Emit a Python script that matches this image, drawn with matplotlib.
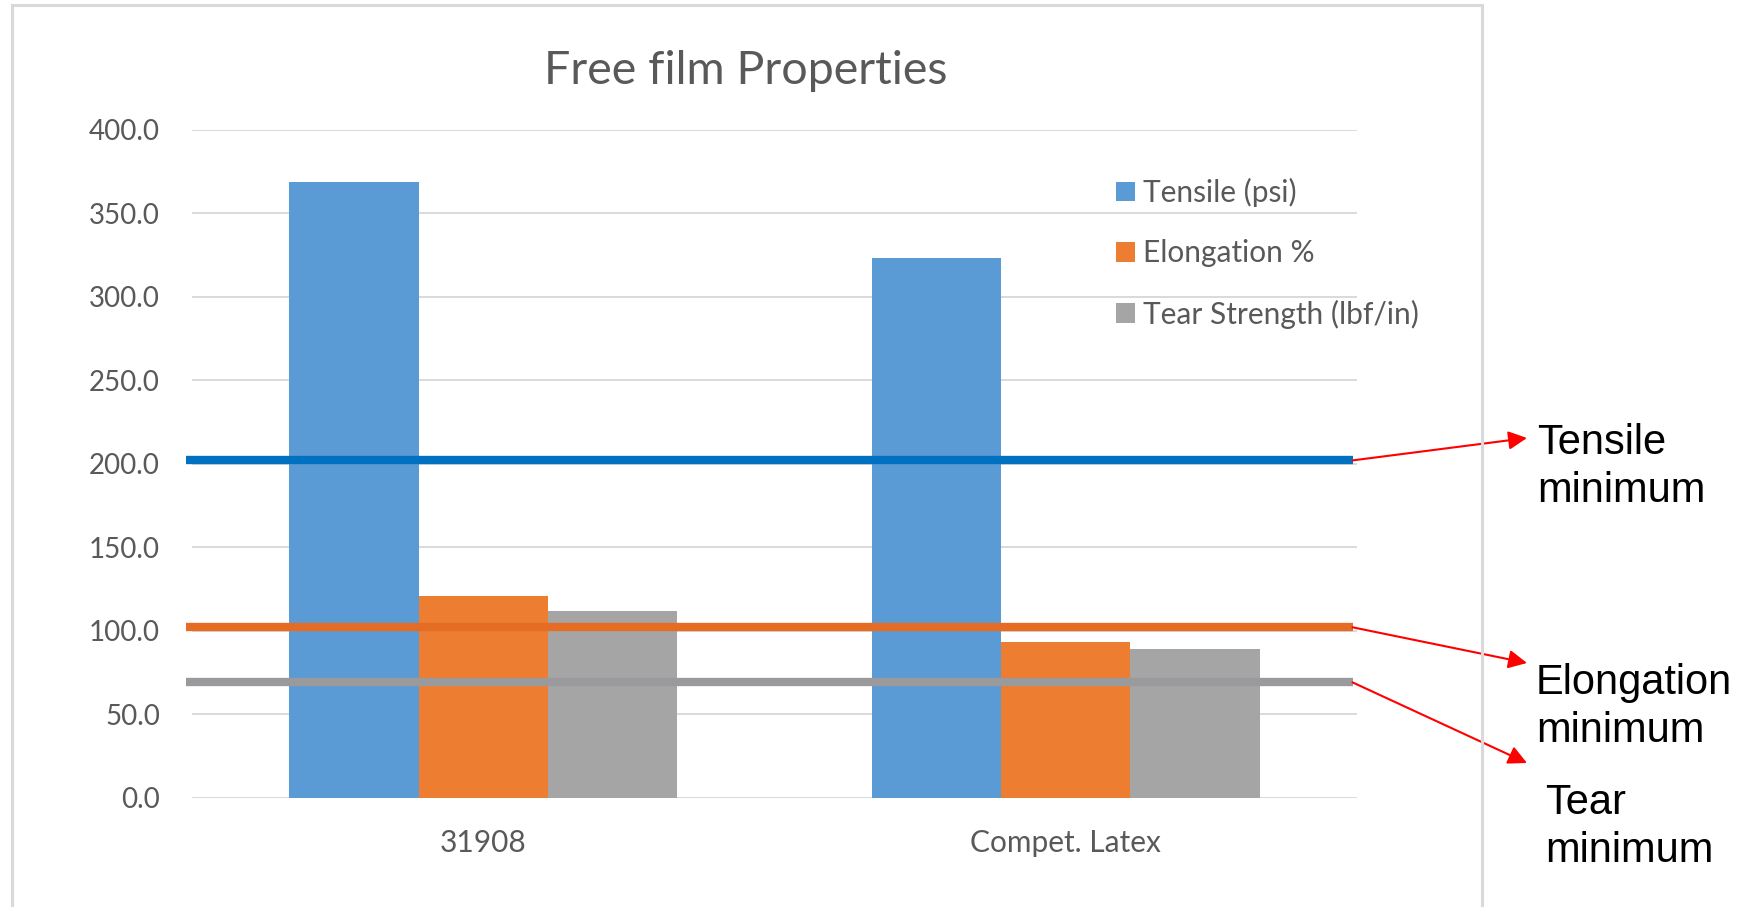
import matplotlib
matplotlib.use("Agg")
import matplotlib.pyplot as plt
from matplotlib.patches import Rectangle
import numpy as np

# free film test results
samples = ["31908", "Compet. Latex"]
tensile = [368.8, 323.5]      # psi
elongation = [120.9, 93.1]    # %
tear = [111.5, 88.9]          # lbf/in

# spec minimums
tensile_min = 202
elongation_min = 102
tear_min = 69

series_names = ["Tensile (psi)", "Elongation %", "Tear Strength (lbf/in)"]
bar_colors = ["#5B9BD5", "#ED7D31", "#A5A5A5"]
min_colors = ["#0070C0", "#E46C24", "#9A9A9C"]
min_labels = ["Tensile\nminimum", "Elongation\nminimum", "Tear\nminimum"]

W, H = 1754, 907
fig = plt.figure(figsize=(W / 100, H / 100), dpi=100)
ax = fig.add_axes([192 / W, 109.5 / H, 1165 / W, 667.5 / H])

grey_text = "#595959"
base_font = "Lato"

x = np.arange(len(samples))
bw = 0.2223
for i, (vals, name, col) in enumerate(zip([tensile, elongation, tear], series_names, bar_colors)):
    ax.bar(x + (i - 1) * bw, vals, width=bw, color=col, label=name, zorder=2)

ax.set_xlim(-0.5, 1.5)
ax.set_ylim(0, 400)
ax.set_yticks(np.arange(0, 401, 50))
ax.set_yticklabels(["%.1f" % v for v in np.arange(0, 401, 50)],
                   fontsize=20, color=grey_text, family=base_font)
ax.set_xticks(x)
ax.set_xticklabels(samples, fontsize=21.5, color=grey_text, family=base_font)
ax.tick_params(axis="y", length=0, pad=23)
ax.tick_params(axis="x", length=0, pad=23)
for s in ax.spines.values():
    s.set_visible(False)
ax.yaxis.grid(True, color="#D9D9D9", lw=1.4)
ax.set_axisbelow(True)

# minimum lines, running slightly past the plot area
x0, x1 = -0.5103, 1.4923
for v, col in zip([tensile_min, elongation_min, tear_min], min_colors):
    ax.plot([x0, x1], [v, v], color=col, lw=6, solid_capstyle="butt",
            clip_on=False, zorder=3)

fig.text(746 / W, 1 - 71 / H, "Free film Properties", ha="center", va="center",
         fontsize=33.5, color=grey_text, family=base_font)

leg = ax.legend(loc="upper left", bbox_to_anchor=(1116 / W, 1 - 178 / H),
                bbox_transform=fig.transFigure, frameon=False, borderpad=0,
                borderaxespad=0, handlelength=0.64, handleheight=0.64,
                handletextpad=0.28, labelspacing=1.08,
                prop={"family": base_font, "size": 21.5})
for t in leg.get_texts():
    t.set_color(grey_text)

# red call-outs to the minimum labels
tips = [(1527, H - 438), (1527, H - 663), (1527, H - 763)]
label_pos = [(1537, H - 423), (1536, H - 663), (1545, H - 783)]
for v, tip, lp, lab in zip([tensile_min, elongation_min, tear_min], tips, label_pos, min_labels):
    ax.annotate("", xy=tip, xycoords="figure pixels", xytext=(x1, v), textcoords="data",
                arrowprops=dict(arrowstyle="-|>", color="red", lw=1.5,
                                mutation_scale=28, shrinkA=0, shrinkB=0),
                annotation_clip=False)
    fig.text(lp[0] / W, lp[1] / H, lab, ha="left", va="top", fontsize=30,
             family="Liberation Sans", color="black", linespacing=1.25)

# chart frame
fig.patches.append(Rectangle((12 / W, -0.1), (1482 - 12) / W, 0.1 + (H - 5) / H,
                             transform=fig.transFigure, fill=False,
                             edgecolor="#D9D9D9", lw=2.2))

fig.savefig("out.png", dpi=100)
